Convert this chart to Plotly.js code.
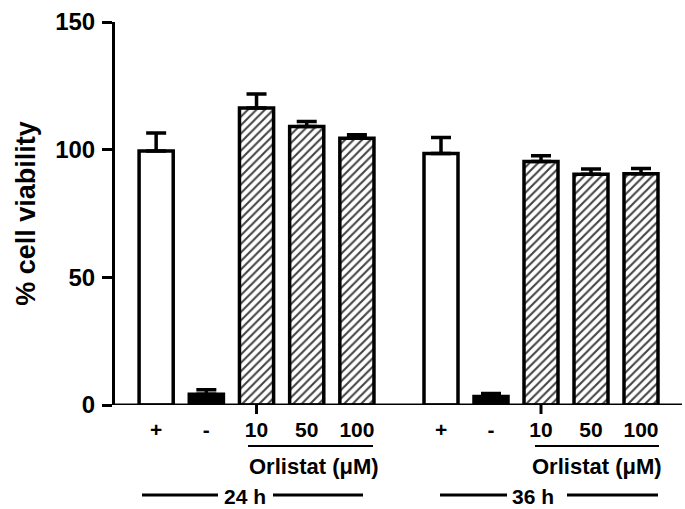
<!DOCTYPE html>
<html>
<head>
<meta charset="utf-8">
<script src="https://cdn.plot.ly/plotly-3.0.1.min.js"></script>
<style>html,body{margin:0;padding:0;background:#fff;}#chart{width:685px;height:509px;}</style>
</head>
<body>
<div id="chart"></div>
<script>
// ---- data ----
var groups = ['24 h', '36 h'];
var categories = ['+', '-', '10', '50', '100'];
var viability24 = [99.5, 4.2, 116.3, 109.1, 104.5];
var error24 = [7.0, 1.8, 5.5, 1.9, 1.3];
var viability36 = [98.5, 3.3, 95.4, 90.4, 90.6];
var error36 = [6.3, 1.2, 2.2, 2.0, 2.0];
var treatmentLabel = 'Orlistat (μM)';
var yTicks = [0, 50, 100, 150];

// ---- styling ----
var FONT = 'Liberation Sans, Arial, Helvetica, sans-serif';
var W = 685, H = 509;
var M = {l: 115, r: 3, t: 22, b: 104};
var PW = W - M.l - M.r, PH = H - M.t - M.b;
function px(x) { return (x - M.l) / PW; }
function py(y) { return (M.t + PH - y) / PH; }

var fills = ['white', 'black', 'white', 'white', 'white'];
var shapesPat = ['', '', '/', '/', '/'];

function barTrace(vals, errs, xa) {
  return {
    type: 'bar', x: categories, y: vals, xaxis: xa, yaxis: 'y',
    width: 0.68,
    marker: {
      color: fills,
      line: {color: 'black', width: 3.5},
      pattern: {shape: shapesPat, fgcolor: 'black', fgopacity: 1, bgcolor: 'white', size: 6, solidity: 0.35, fillmode: 'overlay'}
    },
    error_y: {type: 'data', array: errs, arrayminus: errs.map(function(){return 0;}), symmetric: false,
              color: 'black', thickness: 3.5, width: 10},
    showlegend: false, hoverinfo: 'skip'
  };
}

var data = [barTrace(viability24, error24, 'x'), barTrace(viability36, error36, 'x2')];

var xCommon = {
  type: 'category', categoryorder: 'array', categoryarray: categories,
  showline: false, ticks: '', showgrid: false, zeroline: false,
  tickfont: {family: FONT, size: 21, color: 'black', weight: 'bold'},
  ticklabelstandoff: 10,
  anchor: 'y', fixedrange: true
};
var xaxis = Object.assign({}, xCommon, {domain: [0, px(382)], range: [-0.82, 4.5]});
var xaxis2 = Object.assign({}, xCommon, {domain: [px(416), 1], range: [-0.5, 4.82]});

var tickIdx = categories.indexOf('10');
var shapes = [
  // continuous x-axis line
  {type: 'line', xref: 'paper', yref: 'y', x0: 0, x1: 1, y0: 0, y1: 0, line: {color: 'black', width: 3}},
  // tick marks under the first Orlistat bar of each group
  {type: 'line', xref: 'x', yref: 'paper', x0: tickIdx, x1: tickIdx, y0: 0, y1: -9 / PH, line: {color: 'black', width: 3}},
  {type: 'line', xref: 'x2', yref: 'paper', x0: tickIdx, x1: tickIdx, y0: 0, y1: -9 / PH, line: {color: 'black', width: 3}},
  // underline of dose labels
  {type: 'line', xref: 'paper', yref: 'paper', x0: px(248), x1: px(373), y0: py(446), y1: py(446), line: {color: 'black', width: 2}},
  {type: 'line', xref: 'paper', yref: 'paper', x0: px(535), x1: px(659), y0: py(446), y1: py(446), line: {color: 'black', width: 2}},
  // time bracket lines
  {type: 'line', xref: 'paper', yref: 'paper', x0: px(142), x1: px(218), y0: py(495), y1: py(495), line: {color: 'black', width: 3}},
  {type: 'line', xref: 'paper', yref: 'paper', x0: px(273), x1: px(363), y0: py(495), y1: py(495), line: {color: 'black', width: 3}},
  {type: 'line', xref: 'paper', yref: 'paper', x0: px(440), x1: px(507), y0: py(495), y1: py(495), line: {color: 'black', width: 3}},
  {type: 'line', xref: 'paper', yref: 'paper', x0: px(567), x1: px(658), y0: py(495), y1: py(495), line: {color: 'black', width: 3}}
];

var annFont = {family: FONT, size: 22, color: 'black', weight: 'bold'};
var grpFont = {family: FONT, size: 21, color: 'black', weight: 'bold'};
var annotations = [
  {xref: 'paper', yref: 'paper', x: px(314), y: py(467), text: treatmentLabel, showarrow: false, font: annFont, xanchor: 'center', yanchor: 'middle'},
  {xref: 'paper', yref: 'paper', x: px(597), y: py(467), text: treatmentLabel, showarrow: false, font: annFont, xanchor: 'center', yanchor: 'middle'},
  {xref: 'paper', yref: 'paper', x: px(245), y: py(496), text: groups[0], showarrow: false, font: grpFont, xanchor: 'center', yanchor: 'middle'},
  {xref: 'paper', yref: 'paper', x: px(533), y: py(496), text: groups[1], showarrow: false, font: grpFont, xanchor: 'center', yanchor: 'middle'}
];

var layout = {
  width: W, height: H,
  margin: M,
  paper_bgcolor: 'white', plot_bgcolor: 'white',
  font: {family: FONT, color: 'black'},
  bargap: 0.3,
  xaxis: xaxis, xaxis2: xaxis2,
  yaxis: {
    range: [0, 150], tickvals: yTicks, anchor: 'x',
    showline: true, linecolor: 'black', linewidth: 3,
    ticks: 'outside', ticklen: 10, tickwidth: 3, tickcolor: 'black',
    showgrid: false, zeroline: false,
    tickfont: {family: FONT, size: 24, color: 'black', weight: 'bold'},
    ticklabelstandoff: 2,
    title: {text: '% cell viability', font: {family: FONT, size: 27, color: 'black', weight: 'bold'}, standoff: 12},
    fixedrange: true
  },
  shapes: shapes,
  annotations: annotations
};

Plotly.newPlot('chart', data, layout, {staticPlot: true, displayModeBar: false});
</script>
</body>
</html>
